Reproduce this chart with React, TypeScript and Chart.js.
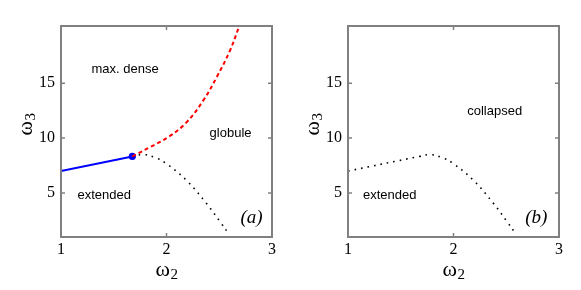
import React, { useEffect, useRef } from "react";
import { Chart, registerables } from "chart.js";

Chart.register(...registerables);

// ---- data ----
const xTicks = [1, 2, 3];
const yTicks = [5, 10, 15];

const blueX = [1.0, 1.676];
const blueY = [7.0, 8.33];

const redX = [1.676, 1.844, 2.017, 2.191, 2.349, 2.476, 2.602, 2.69];
const redY = [8.33, 9.18, 10.09, 11.45, 13.43, 15.55, 17.97, 20.2];

const blackX = [1.676, 1.78, 1.9, 2.0, 2.19, 2.38, 2.51, 2.59];
const blackY = [8.33, 8.5, 8.2, 7.67, 6.15, 4.04, 2.36, 1.3];

const lowX = [1.0, 1.676, 1.78, 1.9, 2.0, 2.19, 2.38, 2.51, 2.59];
const lowY = [7.0, 8.33, 8.5, 8.2, 7.67, 6.15, 4.04, 2.36, 1.3];

const labelsA = ["max. dense", "globule", "extended"];
const labelsB = ["collapsed", "extended"];

const toPts = (xs: number[], ys: number[]) => xs.map((x, i) => ({ x, y: ys[i] }));

const FRAME = "#808080";
const SERIF = "'Liberation Serif', 'Times New Roman', serif";

function drawSub(ctx: any, main: string, sub: string, cx: number, baseY: number) {
  ctx.font = `22px ${SERIF}`;
  const wm = ctx.measureText(main).width;
  ctx.font = `15px ${SERIF}`;
  const ws = ctx.measureText(sub).width;
  const x0 = cx - (wm + ws) / 2;
  ctx.textAlign = "left";
  ctx.textBaseline = "alphabetic";
  ctx.font = `22px ${SERIF}`;
  ctx.fillText(main, x0, baseY);
  ctx.font = `15px ${SERIF}`;
  ctx.fillText(sub, x0 + wm + 0.5, baseY + 3);
}

function makeOptions(
  yWidth: number,
  padRight: number,
  annotations: { text: string; x: number; y: number; font: string }[]
) {
  const framePlugin = {
    id: "frame",
    afterDraw(chart: any) {
      const { ctx, chartArea: a, scales } = chart;
      ctx.save();
      ctx.strokeStyle = FRAME;
      ctx.lineWidth = 2;
      ctx.strokeRect(a.left, a.top, a.right - a.left, a.bottom - a.top);
      ctx.lineWidth = 1.5;
      const tl = 4;
      ctx.beginPath();
      for (const v of xTicks) {
        const px = scales.x.getPixelForValue(v);
        ctx.moveTo(px, a.bottom);
        ctx.lineTo(px, a.bottom - tl);
        ctx.moveTo(px, a.top);
        ctx.lineTo(px, a.top + tl);
      }
      for (const v of yTicks) {
        const py = scales.y.getPixelForValue(v);
        ctx.moveTo(a.left, py);
        ctx.lineTo(a.left + tl, py);
        ctx.moveTo(a.right, py);
        ctx.lineTo(a.right - tl, py);
      }
      ctx.stroke();
      ctx.fillStyle = "#000";
      ctx.textAlign = "center";
      ctx.textBaseline = "middle";
      for (const an of annotations) {
        ctx.font = an.font;
        ctx.fillText(an.text, scales.x.getPixelForValue(an.x), scales.y.getPixelForValue(an.y));
      }
      // axis titles
      const cx = (a.left + a.right) / 2;
      drawSub(ctx, "ω", "2", cx, a.bottom + 39);
      ctx.save();
      const cy = (a.top + a.bottom) / 2 - 7;
      ctx.translate(a.left - 29, cy);
      ctx.rotate(-Math.PI / 2);
      drawSub(ctx, "ω", "3", 0, 0);
      ctx.restore();
      ctx.restore();
    },
  };
  const options: any = {
    responsive: false,
    maintainAspectRatio: false,
    animation: false,
    layout: { padding: { top: 26, right: padRight, left: 0, bottom: 0 } },
    plugins: { legend: { display: false }, tooltip: { enabled: false } },
    scales: {
      x: {
        type: "linear",
        min: 1,
        max: 3,
        afterBuildTicks: (s: any) => {
          s.ticks = xTicks.map((v) => ({ value: v }));
        },
        afterFit: (s: any) => {
          s.height = 53;
        },
        grid: { display: false, drawTicks: false },
        border: { display: false },
        ticks: {
          padding: 3,
          color: "#000",
          font: { family: SERIF, size: 16 },
        },
      },
      y: {
        type: "linear",
        min: 1,
        max: 20.2,
        afterBuildTicks: (s: any) => {
          s.ticks = yTicks.map((v) => ({ value: v }));
        },
        afterFit: (s: any) => {
          s.width = yWidth;
        },
        grid: { display: false, drawTicks: false },
        border: { display: false },
        ticks: {
          padding: 6,
          color: "#000",
          font: { family: SERIF, size: 16 },
        },
      },
    },
  };
  return { options, plugin: framePlugin };
}

const SANS = "13px 'Liberation Sans', Arial, sans-serif";
const ITAL = "italic 19px 'Liberation Serif', 'Times New Roman', serif";

function Panel({ which, left, width }: { which: "a" | "b"; left: number; width: number }) {
  const ref = useRef<HTMLCanvasElement>(null);
  useEffect(() => {
    if (!ref.current) return;
    let datasets: any[];
    let ann: any[];
    let cfg;
    if (which === "a") {
      datasets = [
        {
          data: toPts(redX, redY),
          borderColor: "#ff0000",
          borderWidth: 2,
          borderDash: [4, 3],
          pointRadius: 0,
          showLine: true,
          tension: 0.4,
        },
        {
          data: toPts(blackX, blackY),
          borderColor: "#000",
          borderWidth: 1.6,
          borderDash: [1.6, 5],
          pointRadius: 0,
          showLine: true,
          tension: 0.4,
        },
        {
          data: toPts(blueX, blueY),
          borderColor: "#0000ff",
          backgroundColor: "#0000ff",
          pointBackgroundColor: "#0000ff",
          pointBorderColor: "#0000ff",
          borderWidth: 2,
          pointRadius: [0, 3.6],
          pointBorderWidth: 0,
          showLine: true,
        },
      ];
      ann = [
        { text: labelsA[0], x: 1.607, y: 16.25, font: SANS },
        { text: labelsA[1], x: 2.607, y: 10.43, font: SANS },
        { text: labelsA[2], x: 1.41, y: 4.79, font: SANS },
        { text: "(a)", x: 2.806, y: 2.7, font: ITAL },
      ];
      cfg = makeOptions(61, 18, ann);
    } else {
      datasets = [
        {
          data: toPts(lowX, lowY),
          borderColor: "#000",
          borderWidth: 1.6,
          borderDash: [1.6, 5],
          pointRadius: 0,
          showLine: true,
          tension: 0.4,
        },
      ];
      ann = [
        { text: labelsB[0], x: 2.39, y: 12.43, font: SANS },
        { text: labelsB[1], x: 1.395, y: 4.79, font: SANS },
        { text: "(b)", x: 2.784, y: 2.7, font: ITAL },
      ];
      cfg = makeOptions(58, 22, ann);
    }
    const chart = new Chart(ref.current, {
      type: "scatter",
      data: { datasets },
      options: cfg.options,
      plugins: [cfg.plugin],
    });
    return () => chart.destroy();
  }, [which]);
  return (
    <canvas
      ref={ref}
      width={width}
      height={290}
      style={{ position: "absolute", left, top: 0, width, height: 290 }}
    />
  );
}

export default function App() {
  return (
    <div style={{ position: "absolute", left: 0, top: 0, width: 581, height: 290, background: "#fff" }}>
      <Panel which="a" left={0} width={290} />
      <Panel which="b" left={290} width={291} />
    </div>
  );
}
